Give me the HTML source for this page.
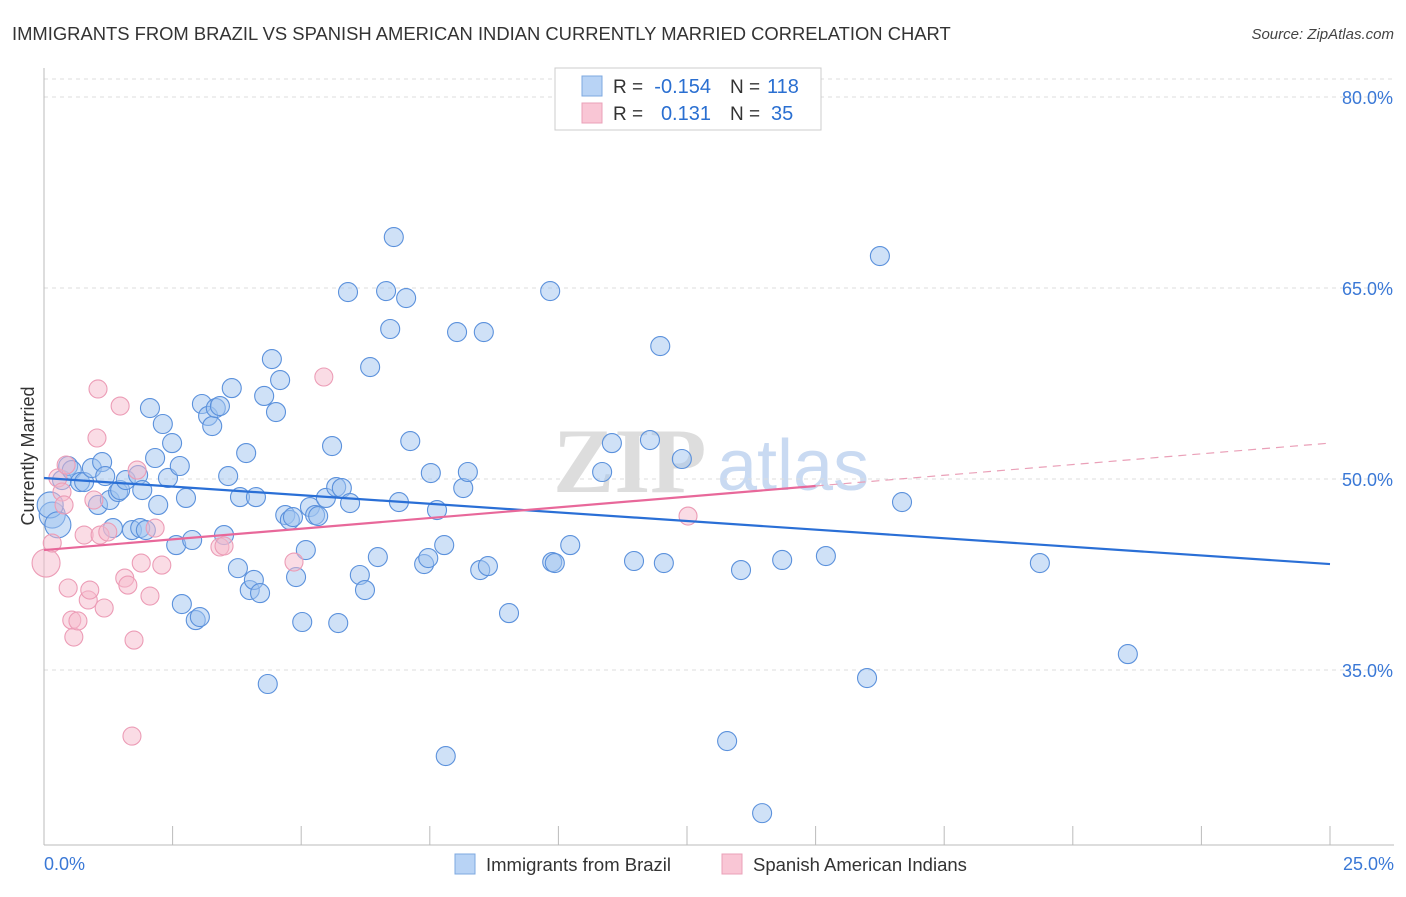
<!DOCTYPE html>
<html><head><meta charset="utf-8"><style>
body{margin:0;background:#fff;font-family:"Liberation Sans",sans-serif}
</style></head><body>
<svg id="c" width="1406" height="892" xmlns="http://www.w3.org/2000/svg" style="font-family:'Liberation Sans',sans-serif">
<text x="12" y="40" font-size="18.4" fill="#333">IMMIGRANTS FROM BRAZIL VS SPANISH AMERICAN INDIAN CURRENTLY MARRIED CORRELATION CHART</text>
<text x="1394" y="39" font-size="15" fill="#444" text-anchor="end" font-style="italic">Source: ZipAtlas.com</text>
<text transform="translate(34,456) rotate(-90)" font-size="18" fill="#333" text-anchor="middle">Currently Married</text>
<g><text x="553" y="492" font-size="92" fill="#ddd" font-family="Liberation Serif,serif" font-weight="bold">ZIP</text><text x="717" y="490" font-size="72" fill="#c9daf2">atlas</text></g>
<g id="grid"></g><g id="axes"></g><g id="blue"></g><g id="pink"></g><g id="trend"></g>
<g>
<rect x="555" y="68" width="266" height="62" fill="#fff" stroke="#ccc"/>
<rect x="582" y="76" width="20" height="20" fill="#b8d3f5" stroke="#7ea8e0"/>
<rect x="582" y="103" width="20" height="20" fill="#f9c6d5" stroke="#eaa0b8"/>
<text x="613" y="93" font-size="19" fill="#333">R =</text>
<text x="711" y="93" font-size="20" fill="#2a6fd1" text-anchor="end">-0.154</text>
<text x="730" y="93" font-size="19" fill="#333">N =</text>
<text x="767" y="93" font-size="20" fill="#2a6fd1">118</text>
<text x="613" y="120" font-size="19" fill="#333">R =</text>
<text x="711" y="120" font-size="20" fill="#2a6fd1" text-anchor="end">0.131</text>
<text x="730" y="120" font-size="19" fill="#333">N =</text>
<text x="771" y="120" font-size="20" fill="#2a6fd1">35</text>
</g>
<g>
<rect x="455" y="854" width="20" height="20" fill="#b8d3f5" stroke="#7ea8e0"/>
<text x="486" y="871" font-size="18.5" fill="#333">Immigrants from Brazil</text>
<rect x="722" y="854" width="20" height="20" fill="#f9c6d5" stroke="#eaa0b8"/>
<text x="753" y="871" font-size="18.5" fill="#333">Spanish American Indians</text>
</g>
</svg>
<script>
const yTicks=[80,65,50,35];
const xTickLabels=["0.0%","25.0%"];
const blueX=[0.16,0.12,0.27,0.35,0.47,0.54,0.70,0.78,0.93,1.05,1.13,1.19,1.28,1.34,1.44,1.48,1.59,1.71,1.83,1.87,1.91,1.98,2.06,2.16,2.22,2.31,2.41,2.49,2.57,2.64,2.68,2.76,2.88,2.95,3.03,3.07,3.19,3.27,3.34,3.42,3.50,3.58,3.65,3.77,3.81,3.93,4.00,4.08,4.12,4.20,4.28,4.35,4.43,4.51,4.59,4.69,4.78,4.84,4.90,5.02,5.09,5.17,5.27,5.33,5.48,5.60,5.68,5.72,5.79,5.91,5.95,6.14,6.24,6.34,6.49,6.65,6.73,6.80,6.90,7.04,7.12,7.39,7.47,7.52,7.64,7.78,7.81,8.03,8.15,8.24,8.48,8.55,8.63,9.04,9.84,9.88,9.93,10.23,10.85,11.04,11.47,11.78,11.98,12.05,12.40,13.28,13.55,13.96,14.35,15.20,16.0,16.25,16.68,19.36,21.07];
const blueY=[47.17,47.96,46.4,49.92,51.02,50.7,49.76,49.76,50.86,47.96,51.33,50.23,48.35,46.15,48.98,49.13,49.92,45.99,50.31,46.15,49.13,45.99,55.57,51.65,47.96,54.32,50.08,52.82,44.81,51.02,40.18,48.51,45.21,38.92,39.16,55.89,54.95,54.16,55.57,55.73,45.6,50.23,57.14,43.0,48.58,52.04,41.28,42.07,48.58,41.04,56.52,33.9,59.42,55.26,57.77,47.17,46.78,47.01,42.3,38.77,44.42,47.8,47.17,47.09,48.51,52.59,49.37,38.69,49.29,64.68,48.11,42.46,41.28,58.79,43.87,64.76,61.78,69.0,48.19,64.21,52.98,43.32,43.79,50.47,47.56,44.81,28.24,61.54,49.29,50.55,42.85,61.54,43.16,39.47,64.76,43.48,43.4,44.81,50.55,52.82,43.56,53.06,60.44,43.4,51.57,29.42,42.85,23.76,43.64,43.95,34.37,67.51,48.19,43.4,36.25];
const pinkX=[0.04,0.16,0.27,0.35,0.39,0.43,0.47,0.54,0.58,0.66,0.78,0.86,0.89,0.97,1.03,1.05,1.09,1.17,1.24,1.48,1.57,1.63,1.71,1.75,1.81,1.89,2.06,2.16,2.29,3.42,3.50,4.86,5.44,12.52];
const pinkY=[43.4,44.97,50.08,48.98,47.96,51.1,41.44,38.92,37.59,38.85,45.6,40.5,41.28,48.35,53.22,57.07,45.6,39.87,45.84,55.73,42.22,41.67,29.81,37.35,50.7,43.4,40.81,46.15,43.24,44.66,44.74,43.48,58.01,47.09];
const blueTrend=[0,50.08,25,43.32];
const pinkTrend=[0,44.42,15,49.45,25,52.82];
const NS="http://www.w3.org/2000/svg";
const X=v=>44+v*(1286/25);
const Y=v=>97+(80-v)*(191/15);
function mk(tag,attrs,parent){const e=document.createElementNS(NS,tag);for(const k in attrs)e.setAttribute(k,attrs[k]);document.getElementById(parent).appendChild(e);return e;}
let g=mk('line',{x1:44,x2:1394,y1:79,y2:79,stroke:'#ddd','stroke-dasharray':'4,4'},'grid');


yTicks.forEach(t=>{
 const l=mk('line',{x1:44,x2:1394,y1:Y(t),y2:Y(t),stroke:'#ddd','stroke-dasharray':'4,4'},'grid');
 
 
 const tx=mk('text',{x:1393,y:Y(t)+7,'font-size':18,fill:'#3a78d6','text-anchor':'end'},'grid');
 tx.textContent=t.toFixed(1)+'%';
 
 
});
let a=mk('line',{x1:44,x2:44,y1:68,y2:845,stroke:'#bbb'},'axes');


a=mk('line',{x1:44,x2:1394,y1:845,y2:845,stroke:'#bbb'},'axes');


for(let i=0;i<=10;i++){const t=mk('line',{x1:X(i*2.5),x2:X(i*2.5),y1:826,y2:845,stroke:'#bbb'},'axes');
 
 }
[[0,'start',44],[25,'end',1394]].forEach((p,i)=>{const t=mk('text',{x:p[2],y:870,'font-size':18,fill:'#3a78d6','text-anchor':p[1]},'axes');t.textContent=xTickLabels[i];
 
 });
blueX.forEach((v,i)=>{const big=i<3;const c=mk('circle',{cx:X(v),cy:Y(blueY[i]),r:big?13:9.5,fill:'rgba(160,196,240,0.5)',stroke:'#5b91dc','stroke-width':1.1},'blue');
 
 });
pinkX.forEach((v,i)=>{const c=mk('circle',{cx:X(v),cy:Y(pinkY[i]),r:i==0?14:9,fill:'rgba(246,186,204,0.5)',stroke:'#ec9cb6','stroke-width':1.1},'pink');
 
 });
let t=mk('line',{x1:X(blueTrend[0]),y1:Y(blueTrend[1]),x2:X(blueTrend[2]),y2:Y(blueTrend[3]),stroke:'#2a6fd6','stroke-width':2.2},'trend');


t=mk('line',{x1:X(pinkTrend[0]),y1:Y(pinkTrend[1]),x2:X(pinkTrend[2]),y2:Y(pinkTrend[3]),stroke:'#e8689a','stroke-width':2.2},'trend');


t=mk('line',{x1:X(pinkTrend[2]),y1:Y(pinkTrend[3]),x2:X(pinkTrend[4]),y2:Y(pinkTrend[5]),stroke:'#eaa0b8','stroke-width':1.2,'stroke-dasharray':'8,6'},'trend');


</script>
</body></html>
